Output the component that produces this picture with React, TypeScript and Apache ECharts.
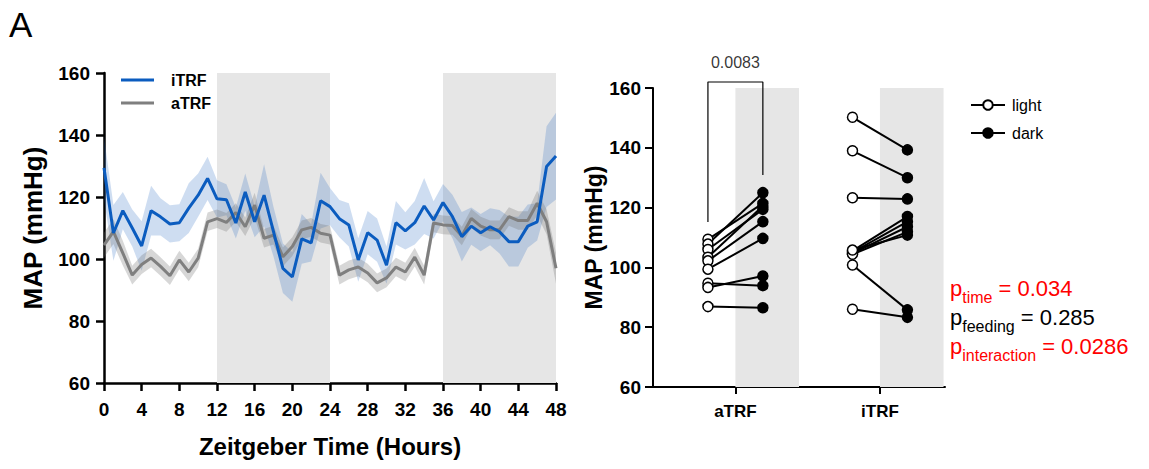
import { useEffect, useRef } from "react";
import * as echarts from "echarts";

const FONT = "'Liberation Sans', Arial, Helvetica, sans-serif";

// ---- Left panel: hourly MAP (mean ± SEM) ----
const hours = [
  "0", "1", "2", "3", "4", "5", "6", "7", "8", "9", "10", "11", "12",
  "13", "14", "15", "16", "17", "18", "19", "20", "21", "22", "23", "24",
  "25", "26", "27", "28", "29", "30", "31", "32", "33", "34", "35", "36",
  "37", "38", "39", "40", "41", "42", "43", "44", "45", "46", "47", "48",
];
const iTRFMean = [
  129.4, 108.4, 115.6, 110.0, 104.2, 115.6, 113.6, 111.3, 111.7, 116.4, 120.6, 126.0, 119.4,
  119.1, 111.6, 121.6, 112.0, 120.6, 108.8, 97.0, 94.2, 106.5, 105.2, 118.8, 116.9,
  113.0, 111.0, 99.7, 108.5, 106.1, 98.0, 111.7, 109.1, 111.7, 117.1, 112.6, 118.2,
  113.7, 107.2, 110.6, 108.5, 110.4, 108.8, 105.6, 105.6, 110.6, 112.0, 129.8, 133.2,
];
const iTRFSem = [
  10, 9, 6, 6, 8, 8, 6, 6, 6, 8, 7, 7, 6,
  5, 5, 6, 5, 10, 8, 8, 8, 8, 6, 9, 6,
  6, 7, 7, 7, 7, 6, 7, 6, 7, 9, 6, 6,
  7, 8, 6, 6, 6, 7, 8, 8, 7, 6, 13, 14,
];
const aTRFMean = [
  104.5, 108.8, 101.9, 94.8, 98.2, 100.3, 97.6, 94.6, 99.7, 95.8, 100.3, 112.0, 113.0,
  111.8, 115.0, 110.4, 117.4, 106.7, 107.7, 100.7, 104.0, 109.4, 110.2, 108.3, 107.7,
  94.8, 96.5, 97.4, 95.5, 92.3, 93.9, 97.4, 95.8, 100.6, 94.8, 111.6, 111.0,
  110.8, 107.4, 113.1, 110.6, 109.4, 109.4, 113.7, 112.4, 112.4, 118.0, 112.0, 97.0,
];
const aTRFSem = [
  4, 4, 4, 3, 3, 3, 3, 3, 3, 3, 3, 3, 3,
  3, 3, 3, 4, 3, 3, 3, 3, 3, 3, 3, 3,
  3, 3, 3, 3, 3, 3, 3, 3, 3, 3, 3, 3,
  3, 3, 3, 3, 3, 3, 3, 3, 3, 4, 4, 5,
];
const leftDarkPhases = [
  ["12", "24"],
  ["36", "48"],
];

// ---- Right panel: light vs dark MAP per animal ----
const groups = ["aTRF", "iTRF"];
const aTRFLight = [109.4, 107.8, 106.0, 103.4, 102.2, 99.4, 94.7, 93.3, 86.9];
const aTRFDark = [121.4, 125.0, 119.4, 120.5, 115.3, 109.7, 93.9, 97.1, 86.5];
const iTRFLight = [150.2, 139.0, 123.3, 105.5, 105.0, 104.7, 104.4, 105.8, 100.8, 86.0];
const iTRFDark = [139.3, 130.0, 122.9, 117.0, 115.3, 113.6, 111.9, 110.8, 85.8, 83.3];
const bracketP = "0.0083";
const bracketYs = [115.2, 162, 162, 130.9];
const stats = [
  { sub: "time", value: "0.034", color: "#ff0000" },
  { sub: "feeding", value: "0.285", color: "#000000" },
  { sub: "interaction", value: "0.0286", color: "#ff0000" },
];

const BLUE = "#0b5cbf";
const GREY = "#7f7f7f";
const SHADE = "#e6e6e6";
const OFF = 0.19; // light/dark horizontal offset around each group position

export default function App() {
  const ref = useRef<HTMLDivElement>(null);

  useEffect(() => {
    if (!ref.current) return;
    const chart = echarts.init(ref.current, undefined, { renderer: "svg" });

    const axisLineStyle = { color: "#000", width: 2.5 };
    const tickStyle = { color: "#000", width: 2.5 };
    const tickLabel = { color: "#000", fontFamily: FONT, fontWeight: "bold" as const, fontSize: 19 };

    const bandSeries = (
      mean: number[],
      sem: number[],
      key: string,
      color: string
    ) => [
      {
        type: "line",
        xAxisIndex: 0,
        yAxisIndex: 0,
        data: mean.map((m, i) => +(m - sem[i]).toFixed(2)),
        stack: key,
        symbol: "none",
        lineStyle: { opacity: 0 },
        silent: true,
        z: 2,
      },
      {
        type: "line",
        xAxisIndex: 0,
        yAxisIndex: 0,
        data: sem.map((s) => 2 * s),
        stack: key,
        symbol: "none",
        lineStyle: { opacity: 0 },
        areaStyle: { color, opacity: 1 },
        silent: true,
        z: 2,
      },
    ];

    const pairSeries = (light: number[], dark: number[], gi: number) =>
      light.map((l, i) => ({
        type: "line",
        xAxisIndex: 1,
        yAxisIndex: 1,
        data: [
          { value: [gi + 1 - OFF, l], itemStyle: { color: "#fff" } },
          { value: [gi + 1 + OFF, dark[i]], itemStyle: { color: "#000" } },
        ],
        symbol: "circle",
        symbolSize: 10,
        itemStyle: { borderColor: "#000", borderWidth: 1.5 },
        lineStyle: { color: "#000", width: 2 },
        z: 5,
      }));

    const option: any = {
      animation: false,
      backgroundColor: "#fff",
      textStyle: { fontFamily: FONT },
      grid: [
        { left: 104, top: 73, width: 452, height: 310 },
        { left: 653, top: 88, width: 292, height: 299 },
      ],
      legend: [
        {
          data: ["iTRF", "aTRF"],
          orient: "vertical",
          left: 116,
          top: 67,
          icon: "rect",
          itemWidth: 33,
          itemHeight: 3,
          itemGap: 7,
          textStyle: { fontFamily: FONT, fontWeight: "bold", fontSize: 16, color: "#000", padding: [0, 0, 0, 12] },
        },
        {
          data: ["light", "dark"],
          orient: "vertical",
          left: 965,
          top: 92,
          itemWidth: 34,
          itemHeight: 12,
          itemGap: 12,
          textStyle: { fontFamily: FONT, fontSize: 16, color: "#000", padding: [0, 0, 0, 2] },
        },
      ],
      xAxis: [
        {
          type: "category",
          gridIndex: 0,
          data: hours,
          boundaryGap: false,
          axisLine: { lineStyle: axisLineStyle },
          axisTick: { interval: 3, length: 8, lineStyle: tickStyle },
          axisLabel: { ...tickLabel, interval: 3, margin: 17 },
          name: "Zeitgeber Time (Hours)",
          nameLocation: "middle",
          nameGap: 51,
          nameTextStyle: { color: "#000", fontFamily: FONT, fontWeight: "bold", fontSize: 24 },
          splitLine: { show: false },
        },
        {
          type: "value",
          gridIndex: 1,
          min: 0.43,
          max: 2.45,
          axisLine: { onZero: false, lineStyle: { color: "#000", width: 2 } },
          axisTick: { customValues: [1, 2], length: 7, lineStyle: { color: "#000", width: 2 } },
          axisLabel: {
            customValues: [1, 2],
            formatter: (v: number) => groups[Math.round(v) - 1] ?? "",
            color: "#000",
            fontFamily: FONT,
            fontWeight: "bold",
            fontSize: 17,
            margin: 16,
          },
          splitLine: { show: false },
        },
      ],
      yAxis: [
        {
          type: "value",
          gridIndex: 0,
          min: 60,
          max: 160,
          interval: 20,
          axisLine: { show: true, lineStyle: axisLineStyle },
          axisTick: { show: true, length: 8, lineStyle: tickStyle },
          axisLabel: { ...tickLabel, margin: 14 },
          splitLine: { show: false },
          name: "MAP (mmHg)",
          nameLocation: "middle",
          nameGap: 58,
          nameRotate: 90,
          nameTextStyle: { color: "#000", fontFamily: FONT, fontWeight: "bold", fontSize: 26 },
        },
        {
          type: "value",
          gridIndex: 1,
          min: 60,
          max: 160,
          interval: 20,
          axisLine: { show: true, onZero: false, lineStyle: { color: "#000", width: 2 } },
          axisTick: { show: true, length: 8, lineStyle: { color: "#000", width: 2 } },
          axisLabel: { ...tickLabel, margin: 12 },
          splitLine: { show: false },
          name: "MAP (mmHg)",
          nameLocation: "middle",
          nameGap: 47,
          nameRotate: 90,
          nameTextStyle: { color: "#000", fontFamily: FONT, fontWeight: "bold", fontSize: 23 },
        },
      ],
      series: [
        // shading of dark phases (left)
        {
          type: "line",
          xAxisIndex: 0,
          yAxisIndex: 0,
          data: [],
          silent: true,
          z: 1,
          markArea: {
            silent: true,
            itemStyle: { color: SHADE },
            data: leftDarkPhases.map(([a, b]) => [{ xAxis: a }, { xAxis: b }]),
          },
        },
        ...bandSeries(iTRFMean, iTRFSem, "ib", "rgba(30,100,190,0.22)"),
        ...bandSeries(aTRFMean, aTRFSem, "ab", "rgba(110,110,110,0.28)"),
        {
          name: "aTRF",
          type: "line",
          xAxisIndex: 0,
          yAxisIndex: 0,
          data: aTRFMean,
          symbol: "none",
          color: GREY,
          lineStyle: { color: GREY, width: 3 },
          z: 3,
        },
        {
          name: "iTRF",
          type: "line",
          xAxisIndex: 0,
          yAxisIndex: 0,
          data: iTRFMean,
          symbol: "none",
          color: BLUE,
          lineStyle: { color: BLUE, width: 3 },
          z: 4,
        },
        // shading of dark columns (right)
        {
          type: "line",
          xAxisIndex: 1,
          yAxisIndex: 1,
          data: [],
          silent: true,
          clip: false,
          z: 1,
          markArea: {
            silent: true,
            itemStyle: { color: SHADE },
            data: groups.map((_, gi) => [
              { coord: [gi + 1, 60] },
              { coord: [gi + 1 + 0.44, 161.2] },
            ]),
          },
        },
        ...pairSeries(aTRFLight, aTRFDark, 0),
        ...pairSeries(iTRFLight, iTRFDark, 1),
        // significance bracket
        {
          type: "line",
          xAxisIndex: 1,
          yAxisIndex: 1,
          clip: false,
          symbol: "none",
          data: [
            [1 - OFF, bracketYs[0]],
            [1 - OFF, bracketYs[1]],
            [1 + OFF, bracketYs[2]],
            [1 + OFF, bracketYs[3]],
          ],
          lineStyle: { color: "#000", width: 1.2 },
          z: 4,
        },
        {
          type: "scatter",
          xAxisIndex: 1,
          yAxisIndex: 1,
          clip: false,
          symbolSize: 0,
          data: [[1, bracketYs[1]]],
          label: {
            show: true,
            position: "top",
            distance: 12,
            formatter: bracketP,
            color: "#000",
            fontFamily: FONT,
            fontSize: 16,
          },
          z: 4,
        },
        // legend entries (right)
        {
          name: "light",
          type: "line",
          xAxisIndex: 1,
          yAxisIndex: 1,
          data: [],
          symbol: "circle",
          symbolSize: 10,
          itemStyle: { color: "#fff", borderColor: "#000", borderWidth: 1.5 },
          lineStyle: { color: "#000", width: 2.5 },
        },
        {
          name: "dark",
          type: "line",
          xAxisIndex: 1,
          yAxisIndex: 1,
          data: [],
          symbol: "circle",
          symbolSize: 10,
          itemStyle: { color: "#000", borderColor: "#000", borderWidth: 1.5 },
          lineStyle: { color: "#000", width: 2.5 },
        },
      ],
      graphic: [
        {
          type: "text",
          left: 9,
          top: 7,
          style: { text: "A", fontSize: 35, fontFamily: FONT, fill: "#000" },
        },
        ...stats.map((s, i) => ({
          type: "text",
          left: 950,
          top: 277 + i * 29,
          style: {
            text: `{p|p}{s|${s.sub}}{v| = ${s.value}}`,
            fill: s.color,
            rich: {
              p: { fontSize: 22, lineHeight: 24, verticalAlign: "top", fontFamily: FONT, fill: s.color },
              s: { fontSize: 16, lineHeight: 16, verticalAlign: "top", padding: [12, 0, 0, 0], fontFamily: FONT, fill: s.color },
              v: { fontSize: 22, lineHeight: 24, verticalAlign: "top", fontFamily: FONT, fill: s.color },
            },
          },
        })),
      ],
    };

    chart.setOption(option);
    return () => chart.dispose();
  }, []);

  return <div ref={ref} style={{ width: 1149, height: 469, margin: -8 }} />;
}
